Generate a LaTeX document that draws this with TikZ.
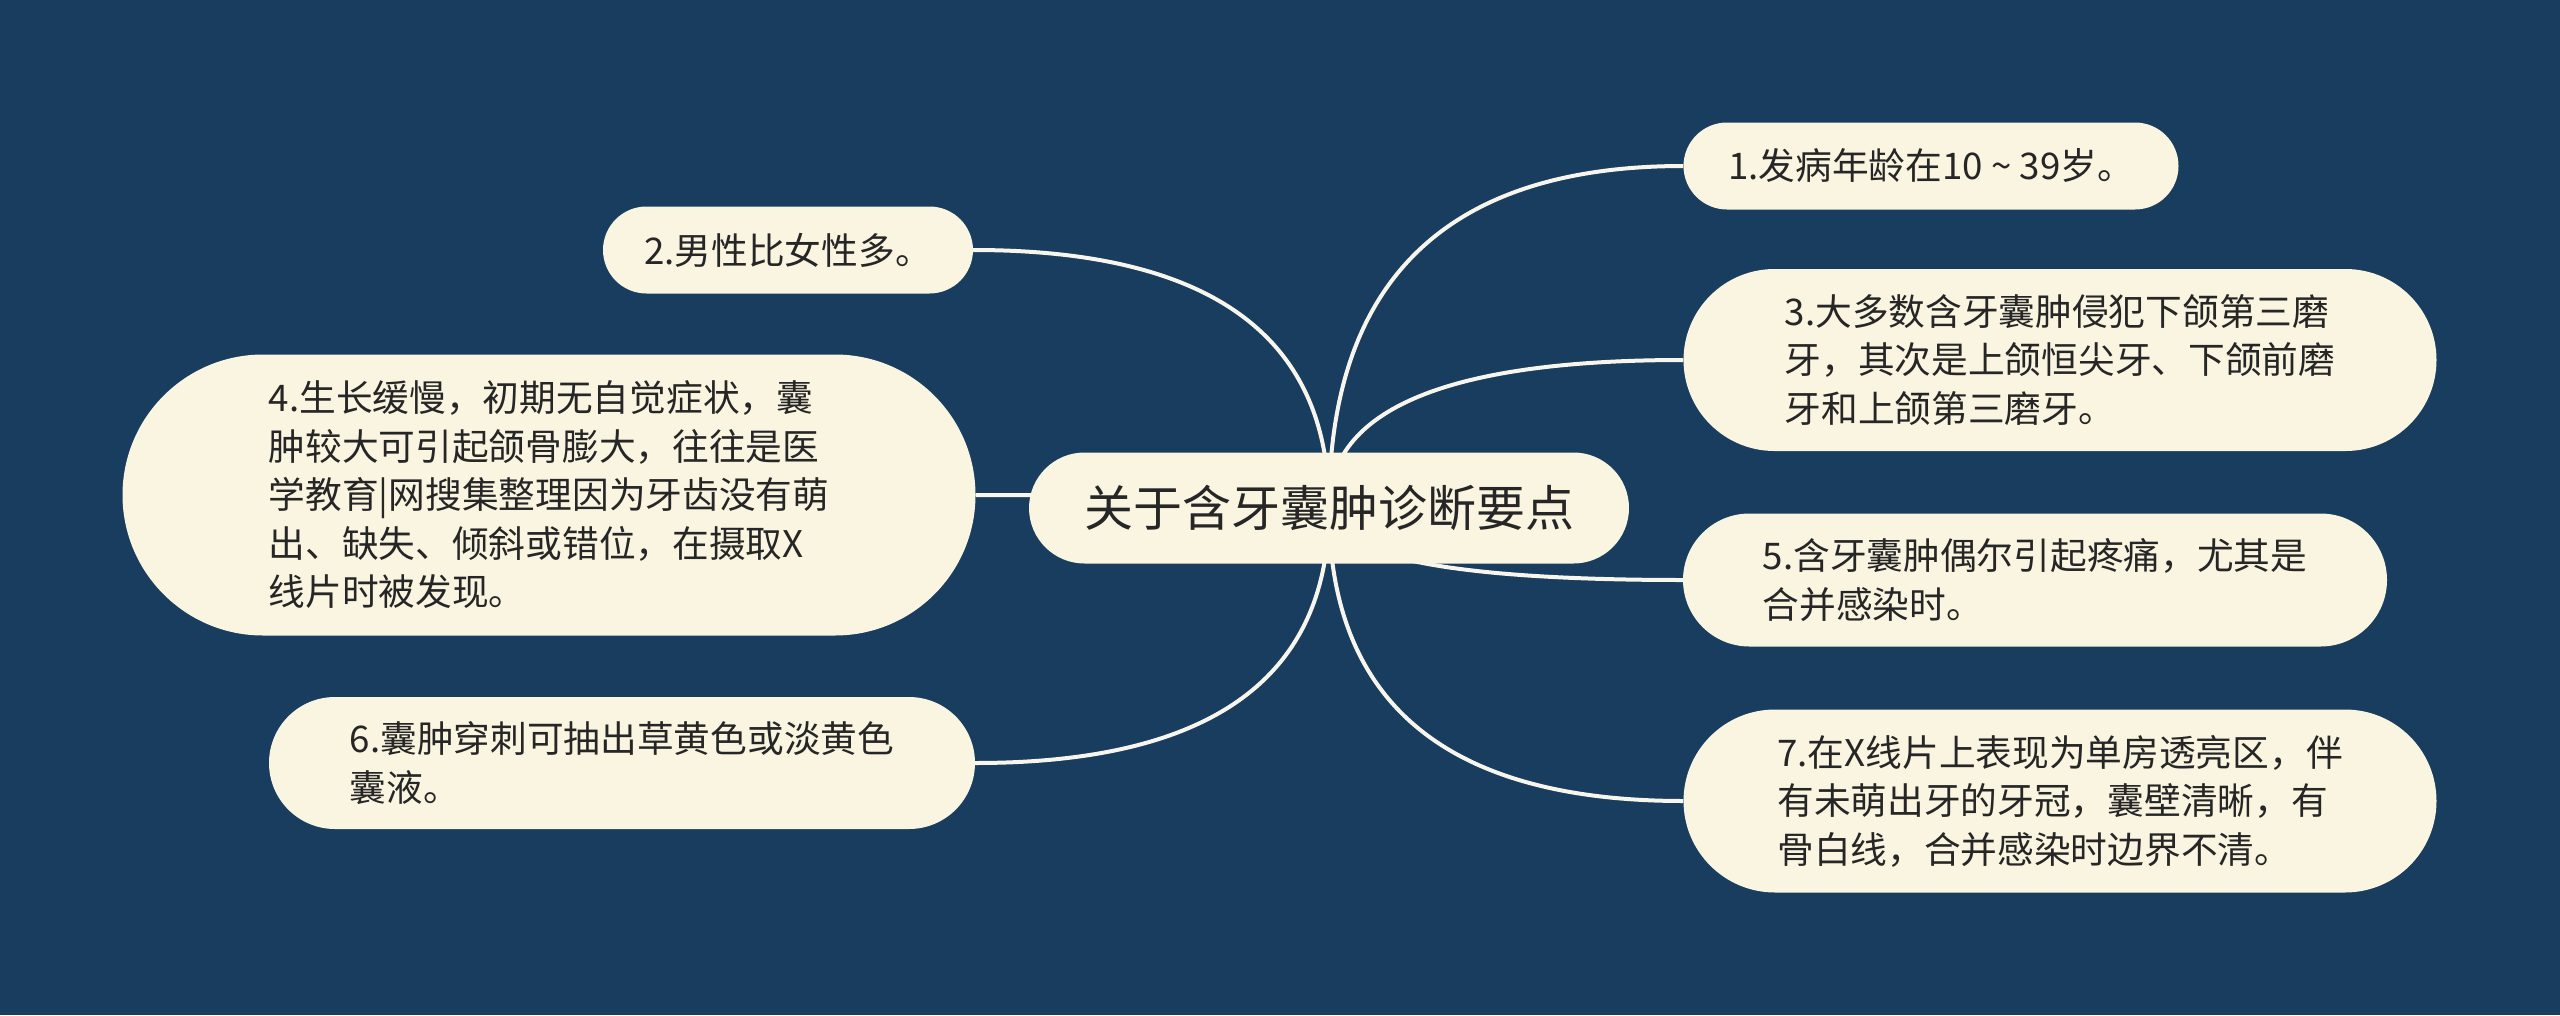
\documentclass[tikz,border=0pt]{standalone}
\usepackage{fontspec}
\setmainfont{Noto Sans CJK SC}
\usetikzlibrary{calc,shapes.misc}
\definecolor{bgblue}{RGB}{24,61,94}
\definecolor{cream}{RGB}{250,245,225}
\definecolor{inkc}{RGB}{38,38,38}
\definecolor{linec}{RGB}{248,246,236}
\pgfdeclarelayer{bgl}
\pgfdeclarelayer{edges}
\pgfsetlayers{bgl,edges,main}
\tikzset{
  box/.style={rounded rectangle, fill=cream, text=inkc, inner sep=0pt, align=left,
    font=\fontsize{36.7}{48.5}\selectfont},
  rootbox/.style={box, font=\fontsize{49}{56}\selectfont},
  branch/.style={draw=linec, line width=4pt},
}
\newcommand\qlink[1]{%
  \draw[branch] (c.center) .. controls ($(c.center)!0.6667!(c.center |- #1)$)
    and ($(#1)!0.6667!(c.center |- #1)$) .. (#1);}
\begin{document}
\begin{tikzpicture}[x=1pt,y=-1pt]
\useasboundingbox (0,0) rectangle (2560,1015);
\begin{pgfonlayer}{bgl}
  \fill[bgblue] (0,0) rectangle (2560,1015);
\end{pgfonlayer}

\node[rootbox, minimum width=600pt, minimum height=111pt] (c) at (1329,508) {关于含牙囊肿诊断要点};

\node[box, minimum width=495pt, minimum height=87pt] (n1) at (1931,166)
  {1.发病年龄在10 \textasciitilde{} 39岁。};
\node[box, minimum width=370pt, minimum height=87pt] (n2) at (788,250)
  {2.男性比女性多。};
\node[box, minimum width=753pt, minimum height=182pt] (n3) at (2060,360)
  {3.大多数含牙囊肿侵犯下颌第三磨\\牙，其次是上颌恒尖牙、下颌前磨\\牙和上颌第三磨牙。};
\node[box, minimum width=853pt, minimum height=281pt] (n4) at (549,495)
  {4.生长缓慢，初期无自觉症状，囊\\肿较大可引起颌骨膨大，往往是医\\学教育|网搜集整理因为牙齿没有萌\\出、缺失、倾斜或错位，在摄取X\\线片时被发现。};
\node[box, minimum width=704pt, minimum height=133pt] (n5) at (2035,580)
  {5.含牙囊肿偶尔引起疼痛，尤其是\\合并感染时。};
\node[box, minimum width=706pt, minimum height=132pt] (n6) at (622,763)
  {6.囊肿穿刺可抽出草黄色或淡黄色\\囊液。};
\node[box, minimum width=753pt, minimum height=183pt] (n7) at (2060,801)
  {7.在X线片上表现为单房透亮区，伴\\有未萌出牙的牙冠，囊壁清晰，有\\骨白线，合并感染时边界不清。};

\begin{pgfonlayer}{edges}
  \qlink{n1.west}
  \qlink{n2.east}
  \qlink{n3.west}
  \qlink{n4.east}
  \qlink{n5.west}
  \qlink{n6.east}
  \qlink{n7.west}
\end{pgfonlayer}
\end{tikzpicture}
\end{document}
